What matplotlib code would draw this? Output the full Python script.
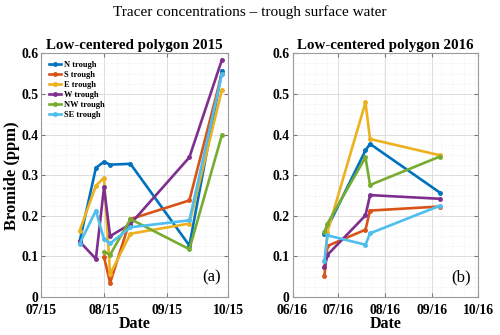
import numpy as np
import pandas as pd
import matplotlib
matplotlib.use("Agg")
import matplotlib.pyplot as plt
import matplotlib.dates as mdates
from matplotlib.ticker import AutoMinorLocator, MultipleLocator

plt.rcParams['font.family'] = ['Liberation Serif', 'DejaVu Serif']

# --- data (bromide, ppm) ---
troughs = ['N trough', 'S trough', 'E trough', 'W trough', 'NW trough', 'SE trough']
colors = ['#0072BD', '#D95319', '#EDB120', '#7E2F8E', '#77AC30', '#4DBEEE']

dates_2015 = ['2015-07-20', '2015-07-28', '2015-08-01', '2015-08-04',
              '2015-08-14', '2015-09-12', '2015-09-28']
n_2015 = [0.137, 0.318, 0.333, 0.326, 0.328, 0.127, 0.557]
s_2015 = [np.nan, np.nan, 0.099, 0.035, 0.192, 0.238, 0.55]
e_2015 = [0.163, 0.274, 0.294, 0.056, 0.156, 0.181, 0.51]
w_2015 = [0.137, 0.094, 0.27, 0.15, 0.18, 0.344, 0.584]
nw_2015 = [np.nan, np.nan, 0.112, 0.104, 0.192, 0.118, 0.399]
se_2015 = [0.131, 0.213, 0.142, 0.132, 0.172, 0.189, 0.548]

dates_2016 = ['2016-06-22', '2016-06-24', '2016-07-19', '2016-07-22', '2016-09-06']
n_2016 = [0.156, np.nan, 0.361, 0.377, 0.257]
s_2016 = [0.053, 0.126, 0.166, 0.213, 0.223]
e_2016 = [0.075, 0.161, 0.479, 0.389, 0.349]
w_2016 = [0.073, 0.104, 0.201, 0.251, 0.242]
nw_2016 = [0.16, 0.181, 0.344, 0.276, 0.346]
se_2016 = [0.089, 0.152, 0.129, 0.157, 0.225]

panels = [
    (dates_2015, [n_2015, s_2015, e_2015, w_2015, nw_2015, se_2015],
     'Low-centered polygon 2015', '(a)', ('2015-07-01', '2015-10-01'), 5),
    (dates_2016, [n_2016, s_2016, e_2016, w_2016, nw_2016, se_2016],
     'Low-centered polygon 2016', '(b)', ('2016-06-01', '2016-10-01'), 4),
]

fig = plt.figure(figsize=(5, 3.35), dpi=100)
fig.suptitle('Tracer concentrations \u2013 trough surface water', fontsize=11, y=0.985)

positions = [[0.082, 0.113, 0.374, 0.728], [0.585, 0.113, 0.371, 0.728]]

for pos, (dates, series, title, tag, xlim, nminor) in zip(positions, panels):
    ax = fig.add_axes(pos)
    x = pd.to_datetime(dates)
    for vals, c, lab in zip(series, colors, troughs):
        v = np.array(vals, dtype=float)
        m = ~np.isnan(v)
        ax.plot(x[m], v[m], color=c, lw=1.9, marker='o', ms=2.5, label=lab)
    ax.set_xlim(pd.Timestamp(xlim[0]), pd.Timestamp(xlim[1]))
    ax.set_ylim(0, 0.6)
    ax.xaxis.set_major_locator(mdates.MonthLocator())
    ax.xaxis.set_major_formatter(mdates.DateFormatter('%m/%y'))
    ax.xaxis.set_minor_locator(AutoMinorLocator(nminor))
    ax.yaxis.set_minor_locator(MultipleLocator(0.025))
    ax.set_yticks([0, 0.1, 0.2, 0.3, 0.4, 0.5, 0.6])
    ax.set_yticklabels(['0', '0.1', '0.2', '0.3', '0.4', '0.5', '0.6'])
    ax.grid(which='major', color='#d8d8d8', lw=0.6)
    ax.grid(which='minor', color='#e8e8e8', lw=0.5, ls=':')
    ax.set_axisbelow(True)
    ax.tick_params(which='both', direction='in', top=True, right=True,
                   labelsize=9.8, color='#777777')
    ax.tick_params(axis='x', pad=5)
    ax.tick_params(axis='y', pad=2)
    ax.tick_params(which='major', length=3)
    ax.tick_params(which='minor', length=0)
    for lbl in ax.get_xticklabels() + ax.get_yticklabels():
        lbl.set_fontweight('bold')
    for sp in ax.spines.values():
        sp.set_color('#9a9a9a')
        sp.set_linewidth(0.8)
    ax.set_title(title, fontsize=10.8, fontweight='bold', pad=3)
    ax.set_xlabel('Date', fontsize=11.5, fontweight='bold', labelpad=-1)
    ax.text(0.96, 0.05, tag, transform=ax.transAxes, ha='right', va='bottom', fontsize=12)
    if tag == '(a)':
        ax.set_ylabel('Bromide (ppm)', fontsize=12, fontweight='bold', labelpad=1)
        ax.legend(loc='upper left', frameon=False, prop={'size': 6, 'weight': 'bold'},
                  handlelength=1.5, handletextpad=0.4, labelspacing=0.25,
                  borderaxespad=0.5)

fig.savefig('out.png', dpi=100)
